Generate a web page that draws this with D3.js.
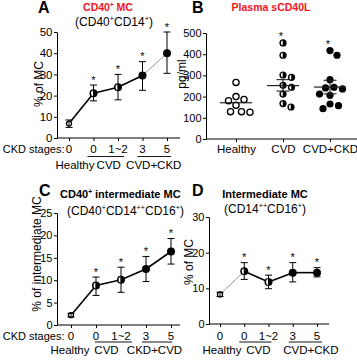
<!DOCTYPE html>
<html><head><meta charset="utf-8">
<script src="https://cdn.jsdelivr.net/npm/d3@7"></script>
<style>body{margin:0;background:#fff}svg{display:block;font-family:"Liberation Sans",Arial,sans-serif}</style>
</head><body><svg id="c" width="357" height="360"></svg>
<script>
// ---------- data ----------
const stageKeys = ["Healthy","CVD0","CVD1-2","CKD3","CKD5"];
const stageLabels = ["0","0","1~2","3","5"];
const stageKind = ["open","half","half","filled","filled"];
const stageSig = [false,true,true,true,true];

const meanA = [6.8,21.1,23.9,29.5,40.0];
const lowA  = [5.0,17.5,18.0,22.5,30.5];
const highA = [8.5,25.0,30.0,36.0,50.0];
const yTicksA = [0,10,20,30,40,50];
const groupLabelsA = ["Healthy","CVD","CVD+CKD"];

const meanC = [2.2,8.8,10.1,12.5,16.4];
const lowC  = [1.8,6.6,7.3,9.7,13.6];
const highC = [2.6,10.7,12.9,15.3,19.3];
const yTicksC = [0,5,10,15,20,25];
const groupLabelsC = ["Healthy","CVD","CKD+CVD"];

const meanD = [8.3,14.8,11.8,14.4,14.4];
const lowD  = [7.7,12.5,9.9,11.8,13.2];
const highD = [8.9,17.2,13.7,17.2,15.8];
const yTicksD = [0,10,20,30];
const groupLabelsD = ["Healthy","CVD","CVD+CKD"];

const groupsB = ["Healthy","CVD","CVD+CKD"];
const kindB = ["open","half","filled"];
const healthyB = [267,200,186,181,159,129,126,129];
const cvdB = [453,395,302,291,253,244,212,167,151];
const ckdB = [417,395,280,244,241,236,212,206,165,157,143];
const meanB = [171,252,245];
const semLowB = [null,226,213];
const semHighB = [null,280,277];
const sigB = [false,true,true];
const yTicksB = [0,100,200,300,400,500];

// ---------- helpers ----------
const svg = d3.select("#c");
const RED = "#f2141b";

function marker(g, cx, cy, kind, r){
  if(kind==="open"){
    g.append("circle").attr("cx",cx).attr("cy",cy).attr("r",r-0.5)
      .attr("fill","#fff").attr("stroke","#000").attr("stroke-width",1.3);
  } else if(kind==="filled"){
    g.append("circle").attr("cx",cx).attr("cy",cy).attr("r",r).attr("fill","#000");
  } else {
    g.append("circle").attr("cx",cx).attr("cy",cy).attr("r",r).attr("fill","#000");
    const ri = r-1.2;
    g.append("path").attr("d",`M${cx-0.3},${cy-ri} A${ri*0.75},${ri} 0 0 0 ${cx-0.3},${cy+ri} Z`).attr("fill","#fff");
  }
}

function supText(g, x, y, parts, opts){
  const t = g.append("text").attr("x",x).attr("y",y)
    .attr("text-anchor",opts.anchor||"middle")
    .attr("font-size",opts.size).attr("font-weight",opts.weight||"normal")
    .attr("fill",opts.fill||"#000");
  let up = false;
  parts.forEach(([s,sup])=>{
    const ts = t.append("tspan").text(s);
    if(sup && !up){ ts.attr("dy",-opts.size*0.38).attr("font-size",opts.size*0.6); up=true; }
    else if(sup && up){ ts.attr("font-size",opts.size*0.6); }
    else if(!sup && up){ ts.attr("dy",opts.size*0.38); up=false; }
  });
  return t;
}

function styleAxis(g){
  g.selectAll("path,line").attr("stroke","#000").attr("stroke-width",1);
  g.selectAll("text").attr("fill","#000").attr("font-family","Liberation Sans, Arial, sans-serif");
}

function star(g, x, y){
  g.append("text").attr("x",x).attr("y",y).attr("text-anchor","middle")
    .attr("font-size",11).attr("fill","#000").attr("opacity",0.99).text("*");
}

function linePanel(cfg){
  const g = svg.append("g");
  const x = d3.scalePoint().domain(stageKeys).range(cfg.xRange);
  const y = d3.scaleLinear().domain(cfg.yDomain).range(cfg.yRange);
  const ya = g.append("g").attr("transform",`translate(${cfg.axisX},0)`)
    .call(d3.axisLeft(y).tickValues(cfg.yTicks).tickSize(3).tickSizeOuter(0).tickPadding(1.5));
  ya.selectAll("text").attr("font-size",cfg.tickSize);
  styleAxis(ya);
  g.append("line").attr("x1",cfg.axisX).attr("x2",cfg.axisEnd)
    .attr("y1",y(0)).attr("y2",y(0)).attr("stroke","#000");
  const xa = g.append("g").attr("transform",`translate(0,${y(0)})`)
    .call(d3.axisBottom(x).tickSize(3).tickFormat(""));
  xa.select(".domain").remove();
  styleAxis(xa);
  for(let i=0;i<stageKeys.length-1;i++){
    const thin = cfg.thinSeg.includes(i);
    g.append("line")
      .attr("x1",x(stageKeys[i])).attr("y1",y(cfg.mean[i]))
      .attr("x2",x(stageKeys[i+1])).attr("y2",y(cfg.mean[i+1]))
      .attr("stroke",thin?"#8a8a8a":"#000").attr("stroke-width",thin?0.9:1.6);
  }
  stageKeys.forEach((k,i)=>{
    marker(g, x(k), y(cfg.mean[i]), stageKind[i], i===0?3:4);
  });
  stageKeys.forEach((k,i)=>{
    const cx = x(k);
    g.append("line").attr("x1",cx).attr("x2",cx).attr("y1",y(cfg.low[i])).attr("y2",y(cfg.high[i]))
      .attr("stroke","#000").attr("stroke-width",1);
    [cfg.low[i],cfg.high[i]].forEach(v=>{
      g.append("line").attr("x1",cx-3.5).attr("x2",cx+3.5).attr("y1",y(v)).attr("y2",y(v))
        .attr("stroke","#000").attr("stroke-width",1);
    });
    if(stageSig[i]) star(g, cx, y(cfg.high[i])-1.5);
  });
  if(cfg.stagesText){
    g.append("text").attr("x",cfg.stagesTextX).attr("y",cfg.stageY).attr("text-anchor","end")
      .attr("font-size",11).text("CKD stages:");
  }
  stageKeys.forEach((k,i)=>{
    g.append("text").attr("x",x(k)).attr("y",cfg.stageY).attr("text-anchor","middle")
      .attr("font-size",cfg.labelSize).text(stageLabels[i]);
  });
  cfg.underlines.forEach(([a,da,b,db])=>{
    g.append("line").attr("x1",x(stageKeys[a])+da).attr("x2",x(stageKeys[b])+db)
      .attr("y1",cfg.underY).attr("y2",cfg.underY)
      .attr("stroke",cfg.underColor).attr("stroke-width",cfg.underW);
  });
  const gx = [x(stageKeys[0]), (x(stageKeys[1])+x(stageKeys[2]))/2, (x(stageKeys[3])+x(stageKeys[4]))/2];
  cfg.groupLabels.forEach((s,i)=>{
    g.append("text").attr("x",gx[i]+cfg.groupDx[i]).attr("y",cfg.groupY).attr("text-anchor","middle")
      .attr("font-size",cfg.groupSize).text(s);
  });
  g.append("text").attr("transform",`translate(${cfg.yLabel[0]},${cfg.yLabel[1]}) rotate(-90)`)
    .attr("text-anchor","middle").attr("dominant-baseline","central").attr("font-size",12).text(cfg.yLabelText);
}

// ---------- Panel A ----------
linePanel({
  xRange:[69,167], yDomain:[0,50], yRange:[138,32], yTicks:yTicksA, axisX:57, axisEnd:180, tickSize:11.5,
  mean:meanA, low:lowA, high:highA, thinSeg:[3],
  stagesText:true, stagesTextX:64.5, stageY:153, labelSize:11.5,
  underlines:[[1,-6,2,6],[3,-5,4,4]], underY:156.5, underColor:"#000", underW:0.9,
  groupLabels:groupLabelsA, groupDx:[6,3,-1], groupY:168.5, groupSize:11.5,
  yLabel:[39,84], yLabelText:"% of MC"
});
svg.append("text").attr("x",38).attr("y",13).attr("font-size",16).attr("font-weight","bold").text("A");
supText(svg,108,11,[["CD40",false],["+",true],[" MC",false]],{size:10.5,weight:"bold",fill:RED});
supText(svg,114,25.5,[["(CD40",false],["+",true],["CD14",false],["+",true],[")",false]],{size:12});

// ---------- Panel C ----------
linePanel({
  xRange:[71,171], yDomain:[0,25], yRange:[325,213], yTicks:yTicksC, axisX:57, axisEnd:180, tickSize:11,
  mean:meanC, low:lowC, high:highC, thinSeg:[],
  stagesText:true, stagesTextX:64.5, stageY:339.5, labelSize:11.5,
  underlines:[[1,-1,2,11],[3,-4,4,1]], underY:342, underColor:"#888", underW:2,
  groupLabels:groupLabelsC, groupDx:[-1,-2,-4], groupY:354, groupSize:11.5,
  yLabel:[37,254], yLabelText:"% of intermediate MC"
});
svg.append("text").attr("x",39).attr("y",196).attr("font-size",16).attr("font-weight","bold").text("C");
supText(svg,60,198,[["CD40",false],["+",true],[" intermediate MC",false]],{size:11,weight:"bold",anchor:"start"});
supText(svg,67,214.5,[["(CD40",false],["+",true],["CD14",false],["++",true],["CD16",false],["+",true],[")",false]],{size:12,anchor:"start"});

// ---------- Panel D ----------
linePanel({
  xRange:[220,317], yDomain:[0,30], yRange:[324,217], yTicks:yTicksD, axisX:209, axisEnd:329, tickSize:11,
  mean:meanD, low:lowD, high:highD, thinSeg:[0],
  stagesText:false, stageY:339.5, labelSize:11.5,
  underlines:[[1,-5,2,3],[3,-4,4,5]], underY:342, underColor:"#888", underW:2,
  groupLabels:groupLabelsD, groupDx:[2,2,6], groupY:354, groupSize:11.5,
  yLabel:[189,262], yLabelText:"% of MC"
});
svg.append("text").attr("x",192).attr("y",196).attr("font-size",16).attr("font-weight","bold").text("D");
supText(svg,265,198,[["Intermediate MC",false]],{size:11,weight:"bold"});
supText(svg,265,212.5,[["(CD14",false],["++",true],["CD16",false],["+",true],[")",false]],{size:12});

// ---------- Panel B ----------
(function(){
  const g = svg.append("g");
  const x = d3.scalePoint().domain(groupsB).range([236,330]);
  const y = d3.scaleLinear().domain([0,500]).range([139,33]);
  const ya = g.append("g").attr("transform","translate(206,0)")
    .call(d3.axisLeft(y).tickValues(yTicksB).tickSize(3).tickSizeOuter(0).tickPadding(1.5));
  ya.selectAll("text").attr("font-size",11);
  styleAxis(ya);
  g.append("line").attr("x1",206).attr("x2",357).attr("y1",y(0)).attr("y2",y(0)).attr("stroke","#000");
  const xa = g.append("g").attr("transform",`translate(0,${y(0)})`)
    .call(d3.axisBottom(x).tickSize(3).tickPadding(2.5));
  xa.select(".domain").remove();
  xa.selectAll("text").attr("font-size",11.5);
  styleAxis(xa);

  const r = 3.6, minD = 2*r+1.2;
  [healthyB,cvdB,ckdB].forEach((vals,gi)=>{
    const cx = x(groupsB[gi]);
    const sorted = vals.slice().sort((a,b)=>b-a);
    const placed = [];
    sorted.forEach(v=>{
      const py = y(v);
      for(let k=0;k<400;k++){
        const dx = (k%2?1:-1)*Math.ceil(k/2)*0.5;
        if(placed.every(p=>(p.dx-dx)**2+(p.py-py)**2 >= minD*minD)){ placed.push({dx,py}); break; }
      }
    });
    placed.forEach(p=>marker(g, cx+p.dx, p.py, kindB[gi], r));
    g.append("line").attr("x1",cx-16).attr("x2",cx+16).attr("y1",y(meanB[gi])).attr("y2",y(meanB[gi]))
      .attr("stroke","#222").attr("stroke-width",1.2);
    if(semLowB[gi]!=null){
      g.append("line").attr("x1",cx).attr("x2",cx).attr("y1",y(semLowB[gi])).attr("y2",y(semHighB[gi]))
        .attr("stroke","#222").attr("stroke-width",1.1);
      [semLowB[gi],semHighB[gi]].forEach(v=>{
        g.append("line").attr("x1",cx-6.5).attr("x2",cx+6.5).attr("y1",y(v)).attr("y2",y(v))
          .attr("stroke","#222").attr("stroke-width",1.1);
      });
    }
    if(sigB[gi]) star(g, cx-2, y(d3.max(vals))-3);
  });
  g.append("text").attr("transform","translate(182,74) rotate(-90)").attr("text-anchor","middle")
    .attr("dominant-baseline","central").attr("font-size",12).text("pg/ml");
})();
svg.append("text").attr("x",192).attr("y",13).attr("font-size",16).attr("font-weight","bold").text("B");
supText(svg,271,11,[["Plasma sCD40L",false]],{size:10.5,weight:"bold",fill:RED});
</script></body></html>
